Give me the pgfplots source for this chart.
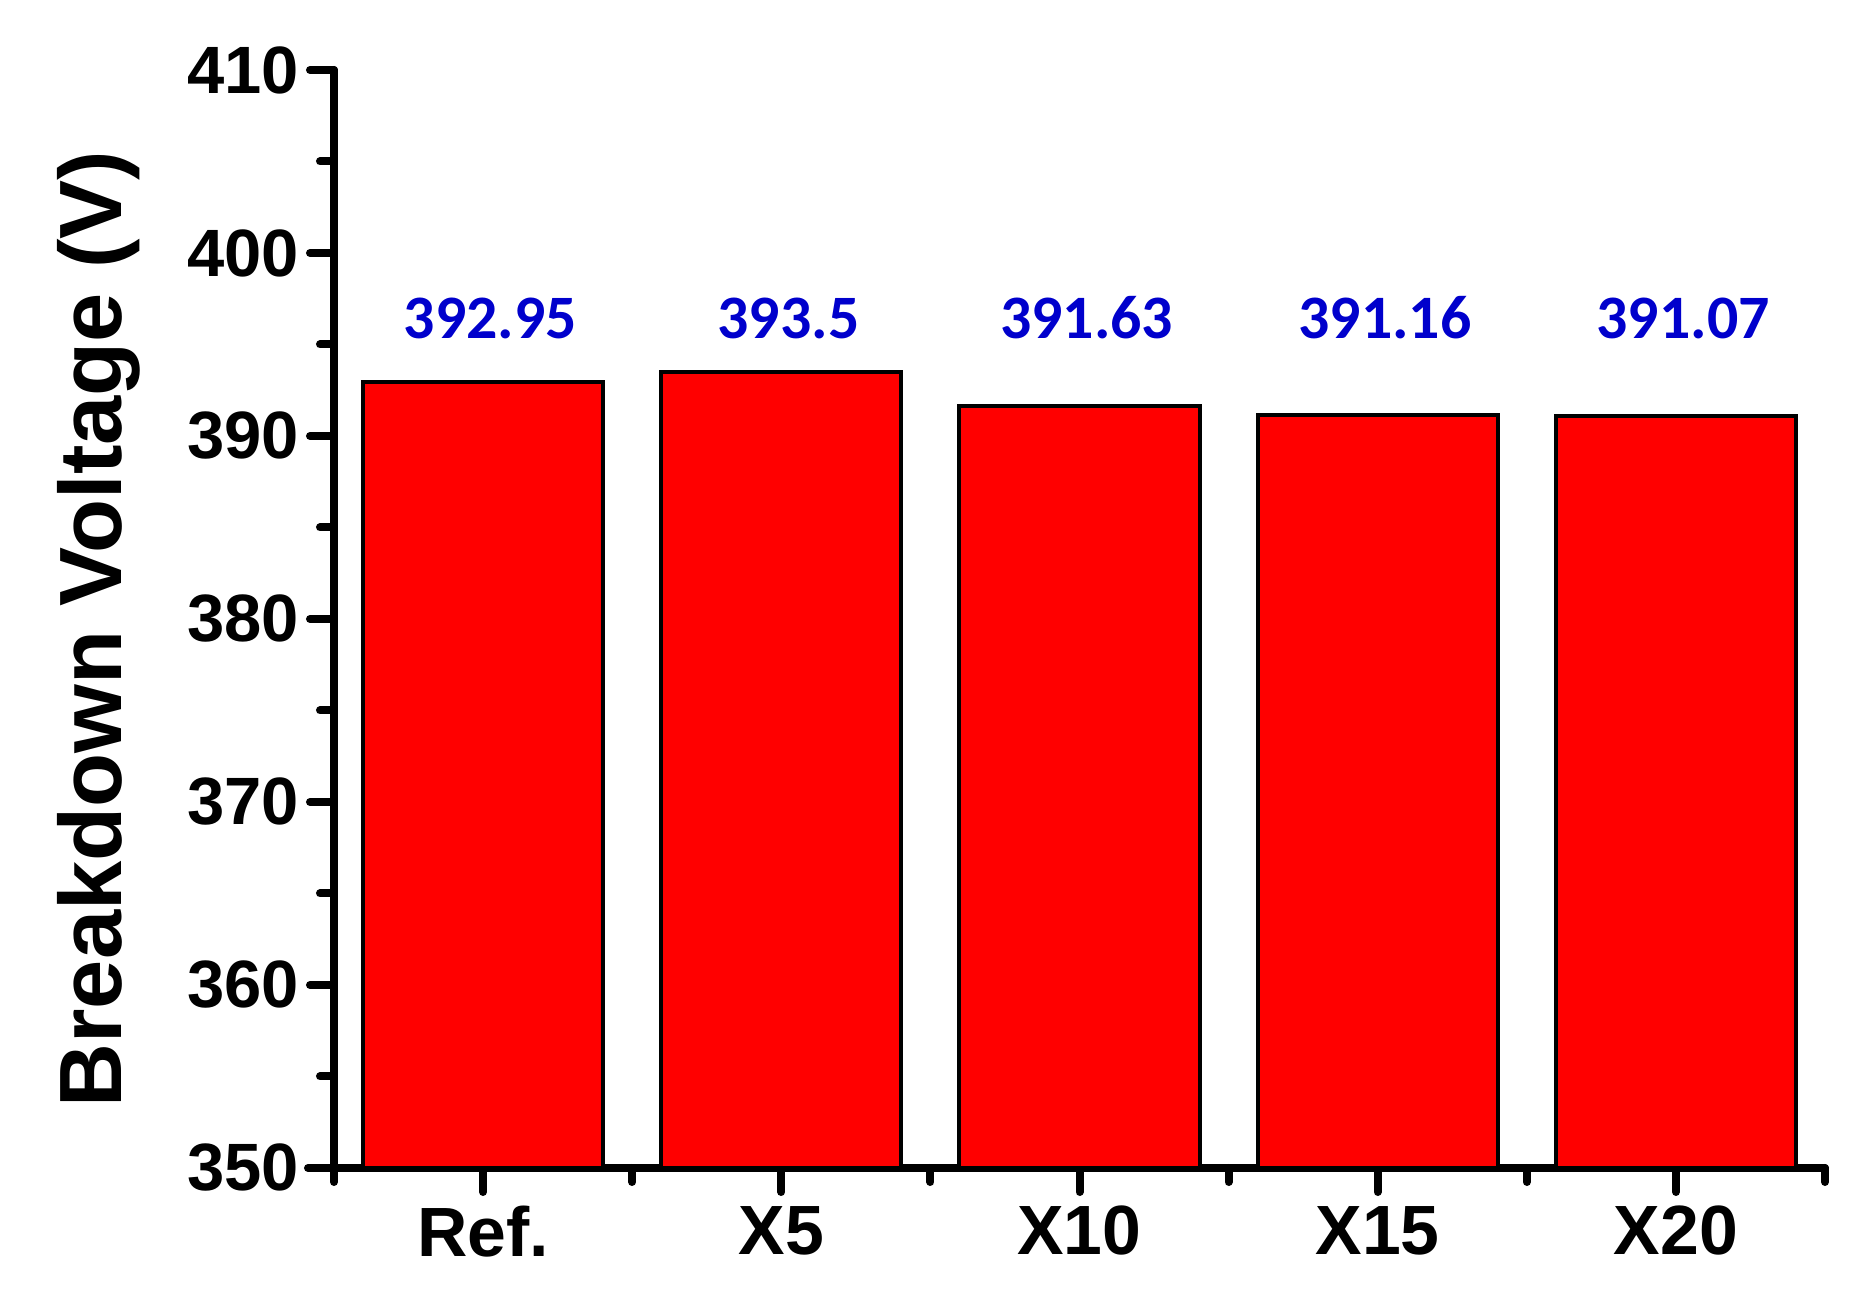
\documentclass[border=0pt]{standalone}
\usepackage{pgfplots}
\pgfplotsset{compat=1.18}
\usepackage{fontspec}
\setmainfont{Liberation Sans}
\newfontfamily\carlito{Carlito}
\definecolor{barred}{HTML}{FF0000}
\definecolor{lblblue}{HTML}{0000CC}
\begin{document}
\begin{tikzpicture}
\path[use as bounding box] (-83.5bp,-36.5bp) rectangle (379.75bp,292bp);
\begin{axis}[
  at={(0,0)}, anchor=south west,
  scale only axis, width=372.75bp, height=274.5bp,
  xmin=-0.5, xmax=4.5, ymin=350, ymax=410,
  axis lines*=left,
  axis line style={-, line width=2bp, line cap=round},
  x axis line style={shorten <=-6.5bp},
  xtick={0,1,2,3,4}, xticklabels={Ref.,X5,X10,X15,X20},
  minor xtick={-0.5,0.5,1.5,2.5,3.5,4.5},
  ytick={350,360,...,410}, minor ytick={355,365,...,405},
  tick align=outside,
  major tick length=6bp, minor tick length=3.5bp,
  every tick/.style={line width=2bp, black, line cap=round},
  /pgf/number format/assume math mode=true,
  /pgf/number format/1000 sep={},
  xticklabel style={font=\bfseries\fontsize{17.5}{17.5}\selectfont, anchor=north, yshift=0bp},
  yticklabel style={font=\bfseries\fontsize{16.8}{16.8}\selectfont, anchor=east, xshift=0.8bp},
  every axis y label/.style={at={(axis description cs:-0.1576,0.4909)}, rotate=90, anchor=center, font=\bfseries\fontsize{22.2}{22.2}\selectfont},
  ylabel={Breakdown Voltage (V)},
]
\addplot[ybar, bar width=0.805, fill=barred, draw=black, line width=1bp] coordinates {
  (0,392.95) (1,393.5) (2,391.63) (3,391.16) (4,391.07)
};
\addplot[draw=none, mark=none, nodes near coords, point meta=explicit symbolic,
  nodes near coords style={font=\carlito\bfseries\fontsize{15.5}{15.5}\selectfont, text=lblblue, anchor=center, xshift=1.8bp}]
  coordinates {
  (0,396.45) [392.95] (1,396.45) [393.5] (2,396.45) [391.63] (3,396.45) [391.16] (4,396.45) [391.07]
};
\end{axis}
\end{tikzpicture}
\end{document}
